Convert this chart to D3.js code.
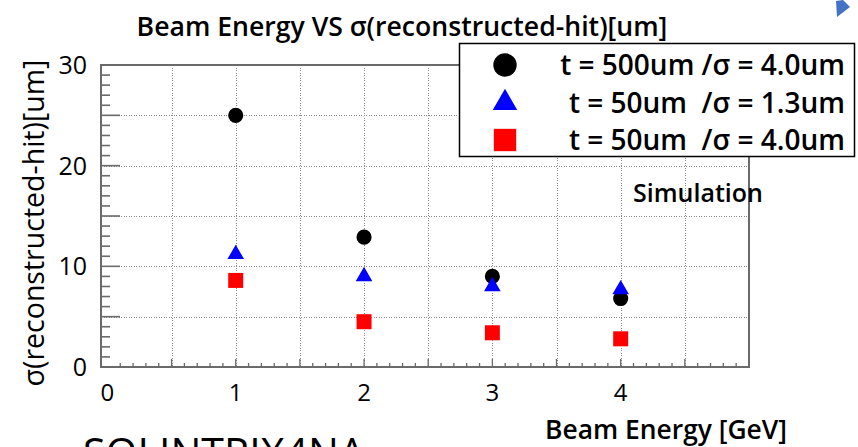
<!DOCTYPE html>
<html>
<head>
<meta charset="utf-8">
<script src="https://cdn.jsdelivr.net/npm/d3@7"></script>
<style>
  html, body { margin: 0; padding: 0; background: #fff; }
  svg { display: block; }
  text { font-family: "Open Sans", "Noto Sans", sans-serif; fill: #000; }
</style>
</head>
<body>
<svg id="chart" width="858" height="447"></svg>
<script>
// ---- data ----
const energies = [1, 2, 3, 4];
const sigmaT500S40 = [25.0, 12.9, 9.0, 6.8];
const sigmaT50S13 = [11.2, 9.0, 8.0, 7.7];
const sigmaT50S40 = [8.6, 4.5, 3.4, 2.8];
const legendLabels = ["t = 500um /σ = 4.0um", "t = 50um  /σ = 1.3um", "t = 50um  /σ = 4.0um"];
const xTickLabels = [0, 1, 2, 3, 4];
const yTickLabels = [0, 10, 20, 30];
const titleText = "Beam Energy VS σ(reconstructed-hit)[um]";
const xTitleText = "Beam Energy [GeV]";
const yTitleText = "σ(reconstructed-hit)[um]";
const noteText = "Simulation";
const footText = "SOLINTRIX4NA";

// ---- layout ----
const svg = d3.select("#chart");
const L = 101, R = 749, T = 65, B = 367;
const x = d3.scaleLinear().domain([-0.05, 5]).range([L, R]);
const y = d3.scaleLinear().domain([0, 30]).range([B, T]);

function fit(sel, target) {
  const fs = parseFloat(sel.style("font-size"));
  const w = sel.node().getComputedTextLength();
  sel.style("font-size", (fs * target / w) + "px");
  return fs * target / w;
}

// gridlines
const gx = d3.range(1, 10).map(d => d * 0.5);
const gy = d3.range(1, 6).map(d => d * 5);
const grid = svg.append("g").attr("stroke", "#8c8c8c").attr("stroke-width", 1)
  .attr("stroke-dasharray", "1,1.5").attr("shape-rendering", "crispEdges");
grid.selectAll("line.gx").data(gx).join("line")
  .attr("x1", d => Math.round(x(d)) + 0.5).attr("x2", d => Math.round(x(d)) + 0.5).attr("y1", T).attr("y2", B);
grid.selectAll("line.gy").data(gy).join("line")
  .attr("x1", L).attr("x2", R).attr("y1", d => Math.round(y(d)) + 0.5).attr("y2", d => Math.round(y(d)) + 0.5);

// axes ticks
const ax = svg.append("g").attr("stroke", "#6a6a6a");
const yMinor = d3.range(1, 30);
ax.selectAll("line.ym").data(yMinor).join("line")
  .attr("x1", L).attr("x2", d => L + (d % 5 === 0 ? 19 : 9))
  .attr("y1", d => y(d)).attr("y2", d => y(d)).attr("stroke-width", 1.6);
const xMinor = d3.range(1, 50).map(d => d / 10);
ax.selectAll("line.xm").data(xMinor).join("line")
  .attr("x1", d => x(d)).attr("x2", d => x(d))
  .attr("y1", B).attr("y2", (d, i) => B - ((i + 1) % 5 === 0 ? 8 : 4)).attr("stroke-width", 1.3);

// frame
svg.append("rect").attr("x", L).attr("y", T).attr("width", R - L).attr("height", B - T)
  .attr("fill", "none").attr("stroke", "#6a6a6a").attr("stroke-width", 2);

// tick labels
svg.append("g").selectAll("text").data(xTickLabels).join("text")
  .attr("x", d => x(d)).attr("y", 401).attr("text-anchor", "middle")
  .style("font-size", "24px").text(d => d);
svg.append("g").selectAll("text").data(yTickLabels).join("text")
  .attr("x", 87).attr("y", d => y(d)).attr("dy", "0.36em").attr("text-anchor", "end")
  .style("font-size", "25px").text(d => d);

// titles
const tt = svg.append("text").attr("x", 402).attr("y", 36).attr("text-anchor", "middle")
  .style("font-size", "22px").style("font-weight", 600).text(titleText);
fit(tt, 531);
const xt = svg.append("text").attr("x", 666).attr("y", 439).attr("text-anchor", "middle")
  .style("font-size", "22px").style("font-weight", 600).text(xTitleText);
fit(xt, 242);
const yt = svg.append("text").attr("transform", "translate(44,223) rotate(-90)").attr("text-anchor", "middle")
  .style("font-size", "22px").style("font-weight", 500).text(yTitleText);
fit(yt, 327);
const st = svg.append("text").attr("x", 698).attr("y", 202).attr("text-anchor", "middle")
  .style("font-size", "22px").style("font-weight", 600).text(noteText);
fit(st, 130);
const ft = svg.append("text").attr("x", 83).attr("y", 468)
  .style("font-size", "34px").style("font-weight", 400).text(footText);
fit(ft, 282);

// markers
const sym = (type, size) => d3.symbol().type(type).size(size)();
function series(vals, type, size, color) {
  svg.append("g").selectAll("path").data(vals).join("path")
    .attr("transform", (d, i) => `translate(${x(energies[i])},${y(d)})`)
    .attr("d", sym(type, size)).attr("fill", color);
}
series(sigmaT500S40, d3.symbolCircle, 180, "#000");
series(sigmaT50S13, d3.symbolTriangle, 120, "#0000ff");
series(sigmaT50S40, d3.symbolSquare, 225, "#ff0000");

// legend
const lg = svg.append("g");
lg.append("rect").attr("x", 459.5).attr("y", 43.5).attr("width", 395).attr("height", 113)
  .attr("fill", "#fff").attr("stroke", "#000").attr("stroke-width", 1.5);
const lTypes = [[d3.symbolCircle, 430, "#000"], [d3.symbolTriangle, 260, "#0000ff"], [d3.symbolSquare, 500, "#ff0000"]];
const rowY = [65, 103, 140];
lTypes.forEach((t, i) => {
  lg.append("path").attr("transform", `translate(505,${rowY[i]})`).attr("d", sym(t[0], t[1])).attr("fill", t[2]);
});
const lt = lg.selectAll("text").data(legendLabels).join("text")
  .attr("x", 845).attr("y", (d, i) => rowY[i]).attr("dy", "0.36em").attr("text-anchor", "end")
  .style("white-space", "pre").style("font-size", "22px").style("font-weight", 600).text(d => d);
const lfs = fit(d3.select(lt.nodes()[0]), 285);
lt.style("font-size", lfs + "px");

// connector arrow tip (top-right)
svg.append("path").attr("d", "M836,1 L843,0 L850,7 L837,17 Z").attr("fill", "#4472c4");
</script>
</body>
</html>
